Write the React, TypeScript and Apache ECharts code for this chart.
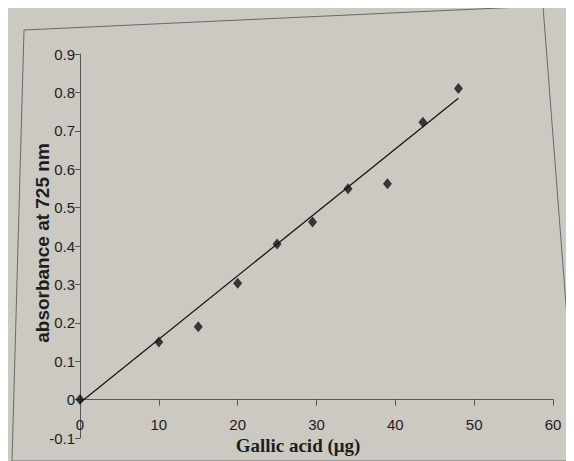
import React, { useEffect, useRef } from "react";
import * as echarts from "echarts";

const gallicAcid = [0, 10, 15, 20, 25, 29.5, 34, 39, 43.5, 48];
const absorbance = [0, 0.15, 0.19, 0.303, 0.405, 0.4625, 0.549, 0.562, 0.722, 0.81];
const trendX = [0, 48];
const trendY = [-0.008, 0.785];
const xTicks = { min: 0, max: 60, interval: 10 };
const yTicks = { min: -0.1, max: 0.9, interval: 0.1 };
const xTitle = "Gallic acid (μg)";
const yTitle = "absorbance at 725 nm";

export default function App() {
  const ref = useRef<HTMLDivElement>(null);
  useEffect(() => {
    if (!ref.current) return;
    const chart = echarts.init(ref.current, undefined, { renderer: "svg" });
    const labelFont = "'Liberation Sans', Arial, sans-serif";
    chart.setOption({
      animation: false,
      backgroundColor: "#cbc9c2",
      grid: {
        left: 72,
        top: 46,
        width: 473,
        height: 384,
        containLabel: false,
        outerBoundsMode: "none",
      },
      xAxis: {
        type: "value",
        min: xTicks.min,
        max: xTicks.max,
        interval: xTicks.interval,
        axisLine: { onZero: true, lineStyle: { color: "#555", width: 1 } },
        axisTick: { show: true, inside: false, length: 6, lineStyle: { color: "#555" } },
        axisLabel: { margin: -21, color: "#1e1e1e", fontSize: 15, fontFamily: labelFont },
        splitLine: { show: false },
      },
      yAxis: {
        type: "value",
        min: yTicks.min,
        max: yTicks.max,
        interval: yTicks.interval,
        axisLine: { show: true, onZero: true, lineStyle: { color: "#555", width: 1 } },
        axisTick: { show: true, length: 5, lineStyle: { color: "#555" } },
        axisLabel: {
          margin: 5,
          color: "#1e1e1e",
          fontSize: 15,
          fontFamily: labelFont,
          formatter: (v: number) => {
            const r = Math.round(v * 10) / 10;
            return r === 0 ? "0" : r.toFixed(1);
          },
        },
        splitLine: { show: false },
      },
      graphic: [
        {
          type: "polygon",
          silent: true,
          shape: { points: [[16, 22], [535, -2], [570, 453], [4, 453]] },
          style: { fill: "none", stroke: "#6a6a6a", lineWidth: 1 },
        },
        {
          type: "text",
          x: 290,
          y: 437,
          style: {
            text: xTitle,
            fill: "#1e1e1e",
            font: "bold 19px 'Liberation Serif', 'Times New Roman', serif",
            align: "center",
            verticalAlign: "middle",
          },
        },
        {
          type: "text",
          x: 34,
          y: 235,
          rotation: Math.PI / 2,
          style: {
            text: yTitle,
            fill: "#1e1e1e",
            font: "bold 19px 'Liberation Sans', Arial, sans-serif",
            align: "center",
            verticalAlign: "middle",
          },
        },
      ],
      series: [
        {
          type: "line",
          data: trendX.map((x, i) => [x, trendY[i]]),
          symbol: "none",
          lineStyle: { color: "#151515", width: 1.3 },
          z: 2,
        },
        {
          type: "scatter",
          data: gallicAcid.map((x, i) => [x, absorbance[i]]),
          symbol: "diamond",
          symbolSize: [9, 11],
          itemStyle: { color: "#111" },
          z: 3,
        },
      ],
    });
    return () => chart.dispose();
  }, []);
  return <div ref={ref} style={{ width: 566, height: 453 }} />;
}
